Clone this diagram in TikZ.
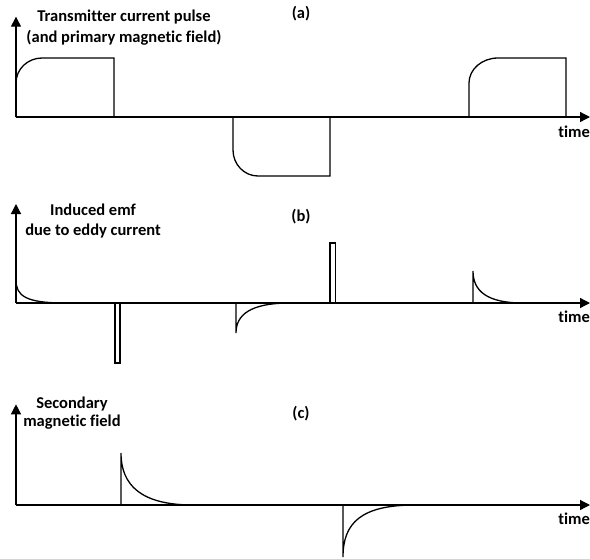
\documentclass[tikz,border=0pt]{standalone}
\usepackage{fontspec}
\setmainfont{Carlito}[Ligatures={NoCommon,NoContextual},Contextuals=NoAlternate]
\usetikzlibrary{arrows.meta}
\begin{document}
\begin{tikzpicture}[x=1pt,y=-1pt,
  ax/.style={line width=1.3pt,-{Triangle[length=10pt,width=10pt]}},
  sig/.style={line width=1.3pt,line join=miter},
  txt/.style={font=\bfseries\fontsize{16.5}{21.5}\selectfont,inner sep=0pt,align=center},
  tag/.style={font=\bfseries\fontsize{16.5}{20}\selectfont,inner sep=0pt,anchor=base},
  tlab/.style={font=\bfseries\fontsize{16.5}{20}\selectfont,inner sep=0pt,anchor=base east}]
\useasboundingbox (0,0) rectangle (590,558);
\fill[white] (0,0) rectangle (590,558);

% ---------- panel (a) ----------
\coordinate (oa) at (16,117);
\coordinate (ya) at (16,16.7);
\coordinate (xa) at (590,117);
\draw[ax] (oa) -- (ya);
\draw[ax] (oa) -- (xa);
\draw[sig] (oa) -- (16,83) .. controls (16,69.2) and (27.6,58) .. (42,58) -- (114,58) -- (114,117);
\draw[sig] (233,117) -- (233,150) .. controls (233,164.4) and (244.2,176) .. (258,176) -- (330,176) -- (330,117);
\draw[sig] (469,117) -- (469,83) .. controls (469,69.2) and (482,58) .. (498,58) -- (566,58) -- (566,117);
\node[txt] (ta) at (124,27.5) {Transmitter current pulse\\(and primary magnetic field)};
\node[tag] (la) at (301,18.3) {(a)};
\node[tlab] (xta) at (590,137.3) {time};

% ---------- panel (b) ----------
\coordinate (ob) at (16,303);
\coordinate (yb) at (16,204);
\coordinate (xb) at (590,303);
\draw[ax] (ob) -- (yb);
\draw[ax] (ob) -- (xb);
\draw[sig] (16,280) .. controls (16,296) and (26,303) .. (65,303);
\draw[sig] (115,303) rectangle (120,363);
\draw[sig] (236,303) -- (236,333) .. controls (236,315) and (250,303) .. (290,303);
\draw[sig] (330,243) rectangle (335.7,303);
\draw[sig] (473,303) -- (473,271) .. controls (473,291) and (487,303) .. (523,303);
\node[txt,font=\bfseries\fontsize{16.5}{20}\selectfont] (tb) at (93,221) {Induced emf\\due to eddy current};
\node[tag] (lb) at (301,221) {(b)};
\node[tlab] (xtb) at (590,322.3) {time};

% ---------- panel (c) ----------
\coordinate (oc) at (16,505);
\coordinate (yc) at (16,404.3);
\coordinate (xc) at (590,505);
\draw[ax] (oc) -- (yc);
\draw[ax] (oc) -- (xc);
\draw[sig] (121,505) -- (121,453) .. controls (121,485) and (141,505) .. (193,505);
\draw[sig] (343,505) -- (343,557) .. controls (343,523) and (361,505) .. (415,505);
\node[txt,font=\bfseries\fontsize{16.5}{17.5}\selectfont] (tc) at (72,413) {Secondary\\magnetic field};
\node[tag] (lc) at (301,418.3) {(c)};
\node[tlab] (xtc) at (590,524) {time};
\end{tikzpicture}
\end{document}
